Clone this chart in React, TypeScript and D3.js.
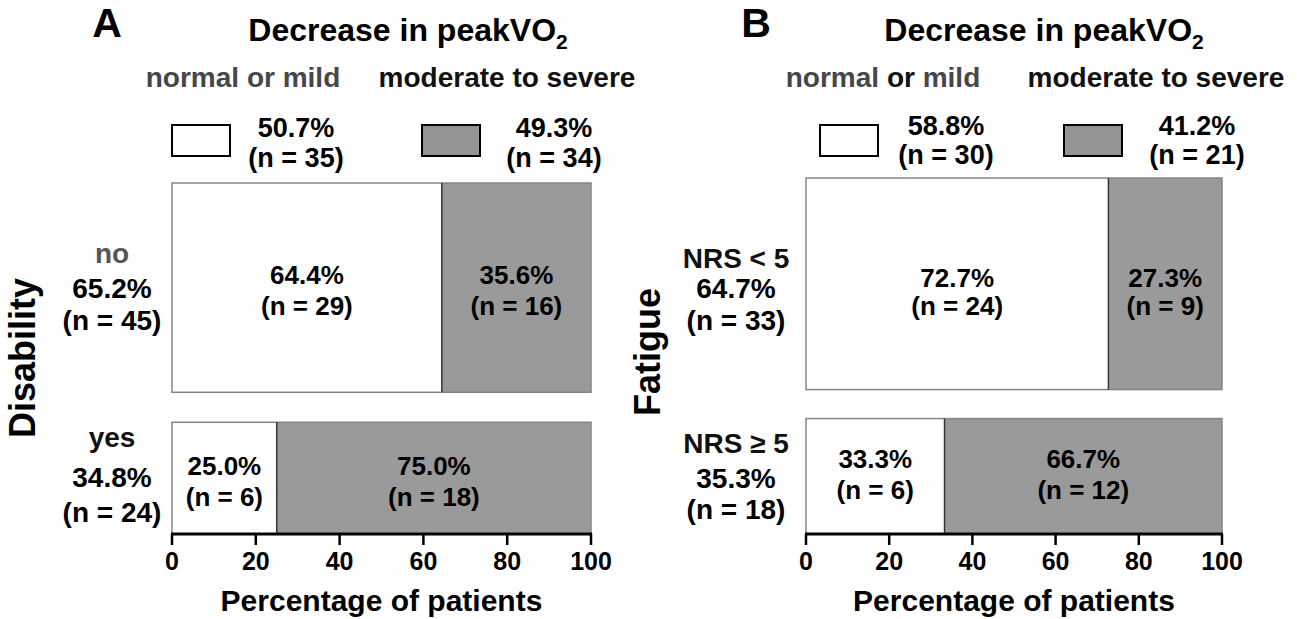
import React from "react";
import * as d3 from "d3";

// Mosaic plots: decrease in peakVO2 by disability (A) and fatigue (B)

const FONT = "'Liberation Sans', Arial, Helvetica, sans-serif";

const xTicks = [0, 20, 40, 60, 80, 100];
const legendLabels = ["normal or mild", "moderate to severe"];

// Panel A
const groupsA = ["no", "yes"];
const groupPctA = [65.2, 34.8];
const groupNA = [45, 24];
const mildPctA = [64.4, 25.0];
const mildNA = [29, 6];
const severePctA = [35.6, 75.0];
const severeNA = [16, 18];
const totalPctA = [50.7, 49.3];
const totalNA = [35, 34];

// Panel B
const groupsB = ["NRS < 5", "NRS \u2265 5"];
const groupPctB = [64.7, 35.3];
const groupNB = [33, 18];
const mildPctB = [72.7, 33.3];
const mildNB = [24, 6];
const severePctB = [27.3, 66.7];
const severeNB = [9, 12];
const totalPctB = [58.8, 41.2];
const totalNB = [30, 21];

const GRAY_BAR = "#9a9a9a";
const GRAY_KEY = "#939393";

type Layout = {
  left: number;
  right: number;
  top: number;
  bottom: number;
  gap: number;
  letterX: number;
  titleX: number;
  yTitleX: number;
  yTitleY: number;
  rowLabelX: number;
  rowLabelDy: number[][];
  innerDy: number[][];
  headX: [number, number];
  boxX: [number, number];
  boxW: number;
  valX: [number, number];
  valY: [number, number];
  groupGray: boolean;
  orDark: boolean;
};

type PanelProps = {
  letter: string;
  yTitle: string;
  groups: string[];
  groupPct: number[];
  groupN: number[];
  mildPct: number[];
  mildN: number[];
  severePct: number[];
  severeN: number[];
  totalPct: number[];
  totalN: number[];
  layout: Layout;
};

const pct = (v: number) => `${v.toFixed(1)}%`;
const nLabel = (n: number) => `(n = ${n})`;

const Panel: React.FC<PanelProps> = ({
  letter,
  yTitle,
  groups,
  groupPct,
  groupN,
  mildPct,
  mildN,
  severePct,
  severeN,
  totalPct,
  totalN,
  layout: L,
}) => {
  const x = d3.scaleLinear().domain([0, 100]).range([L.left, L.right]);
  const h = d3
    .scaleLinear()
    .domain([0, 100])
    .range([0, L.bottom - L.top - L.gap * (groups.length - 1)]);
  const cum = d3.cumsum(groupPct);

  const rows = groups.map((g, i) => {
    const y0 = L.top + h(cum[i] - groupPct[i]) + i * L.gap;
    const y1 = y0 + h(groupPct[i]);
    return { g, i, y0, y1, mid: (y0 + y1) / 2 };
  });

  const headColor = "#474747";

  return (
    <g fontFamily={FONT} fontWeight="bold">
      {/* panel letter and title */}
      <text x={L.letterX} y={37} fontSize={41} textAnchor="middle">
        {letter}
      </text>
      <text x={L.titleX} y={41} fontSize={32} textAnchor="middle">
        Decrease in peakVO
        <tspan dy={8} fontSize={21}>
          2
        </tspan>
      </text>

      {/* legend headings */}
      <text x={L.headX[0]} y={87} fontSize={28} textAnchor="middle" fill={headColor}>
        normal <tspan fill={L.orDark ? "#111" : headColor}>or</tspan> mild
      </text>
      <text x={L.headX[1]} y={87} fontSize={28} textAnchor="middle" fill="#111">
        {legendLabels[1]}
      </text>

      {/* legend keys */}
      {[0, 1].map((k) => (
        <g key={k}>
          <rect
            x={L.boxX[k]}
            y={125}
            width={L.boxW}
            height={31}
            fill={k === 0 ? "#fff" : GRAY_KEY}
            stroke="#000"
            strokeWidth={2}
          />
          <text x={L.valX[k]} y={L.valY[0]} fontSize={27} textAnchor="middle">
            {pct(totalPct[k])}
          </text>
          <text x={L.valX[k]} y={L.valY[1]} fontSize={27} textAnchor="middle">
            {nLabel(totalN[k])}
          </text>
        </g>
      ))}

      {/* mosaic rows */}
      {rows.map((r) => {
        const xm = x(mildPct[r.i]);
        const [dTop, dBot] = L.innerDy[r.i];
        const [d0, d1, d2] = L.rowLabelDy[r.i];
        return (
          <g key={r.g}>
            <rect
              x={x(0)}
              y={r.y0}
              width={xm - x(0)}
              height={r.y1 - r.y0}
              fill="#fff"
            />
            <rect
              x={xm}
              y={r.y0}
              width={x(100) - xm}
              height={r.y1 - r.y0}
              fill={GRAY_BAR}
            />
            <rect
              x={x(0)}
              y={r.y0}
              width={x(100) - x(0)}
              height={r.y1 - r.y0}
              fill="none"
              stroke="#858585"
              strokeWidth={1.5}
            />
            <line x1={xm} x2={xm} y1={r.y0} y2={r.y1} stroke="#333" strokeWidth={1.5} />

            <text x={(x(0) + xm) / 2} y={r.mid + dTop} fontSize={26} textAnchor="middle">
              {pct(mildPct[r.i])}
            </text>
            <text x={(x(0) + xm) / 2} y={r.mid + dBot} fontSize={26} textAnchor="middle">
              {nLabel(mildN[r.i])}
            </text>
            <text x={(xm + x(100)) / 2} y={r.mid + dTop} fontSize={26} textAnchor="middle">
              {pct(severePct[r.i])}
            </text>
            <text x={(xm + x(100)) / 2} y={r.mid + dBot} fontSize={26} textAnchor="middle">
              {nLabel(severeN[r.i])}
            </text>

            {/* row labels */}
            <text
              x={L.rowLabelX}
              y={r.mid + d0}
              fontSize={28}
              textAnchor="middle"
              fill={L.groupGray && r.i === 0 ? "#555" : "#111"}
            >
              {r.g}
            </text>
            <text x={L.rowLabelX} y={r.mid + d1} fontSize={28} textAnchor="middle">
              {pct(groupPct[r.i])}
            </text>
            <text x={L.rowLabelX} y={r.mid + d2} fontSize={28} textAnchor="middle">
              {nLabel(groupN[r.i])}
            </text>
          </g>
        );
      })}

      {/* x axis */}
      <line x1={x(0) - 1} x2={x(100) + 1} y1={L.bottom} y2={L.bottom} stroke="#000" strokeWidth={3} />
      {xTicks.map((t) => (
        <g key={t}>
          <line x1={x(t)} x2={x(t)} y1={L.bottom} y2={L.bottom + 11} stroke="#000" strokeWidth={2.5} />
          <text x={x(t)} y={570} fontSize={25} textAnchor="middle">
            {t}
          </text>
        </g>
      ))}
      <text x={(x(0) + x(100)) / 2} y={611} fontSize={30} textAnchor="middle">
        Percentage of patients
      </text>

      {/* y title */}
      <text
        transform={`translate(${L.yTitleX},${L.yTitleY}) rotate(-90)`}
        fontSize={36}
        textAnchor="middle"
      >
        {yTitle}
      </text>
    </g>
  );
};

const layoutA: Layout = {
  left: 172,
  right: 591,
  top: 183,
  bottom: 534,
  gap: 30,
  letterX: 107,
  titleX: 408,
  yTitleX: 35,
  yTitleY: 358,
  rowLabelX: 112,
  rowLabelDy: [
    [-25, 10, 42],
    [-31, 9, 44],
  ],
  innerDy: [
    [-4, 27],
    [-3, 28],
  ],
  headX: [243, 507],
  boxX: [172, 422],
  boxW: 58,
  valX: [296, 554],
  valY: [137, 167],
  groupGray: true,
  orDark: false,
};

const layoutB: Layout = {
  left: 806,
  right: 1222,
  top: 178,
  bottom: 534,
  gap: 29,
  letterX: 756,
  titleX: 1044,
  yTitleX: 660,
  yTitleY: 352,
  rowLabelX: 736,
  rowLabelDy: [
    [-16, 14, 46],
    [-23, 12, 43],
  ],
  innerDy: [
    [3, 31],
    [-8, 23],
  ],
  headX: [883, 1156],
  boxX: [820, 1064],
  boxW: 58,
  valX: [946, 1197],
  valY: [135, 164],
  groupGray: false,
  orDark: true,
};

export default function App() {
  return (
    <svg
      width={1297}
      height={619}
      style={{ position: "absolute", left: 0, top: 0, background: "#fff" }}
    >
      <Panel
        letter="A"
        yTitle="Disability"
        groups={groupsA}
        groupPct={groupPctA}
        groupN={groupNA}
        mildPct={mildPctA}
        mildN={mildNA}
        severePct={severePctA}
        severeN={severeNA}
        totalPct={totalPctA}
        totalN={totalNA}
        layout={layoutA}
      />
      <Panel
        letter="B"
        yTitle="Fatigue"
        groups={groupsB}
        groupPct={groupPctB}
        groupN={groupNB}
        mildPct={mildPctB}
        mildN={mildNB}
        severePct={severePctB}
        severeN={severeNB}
        totalPct={totalPctB}
        totalN={totalNB}
        layout={layoutB}
      />
    </svg>
  );
}
